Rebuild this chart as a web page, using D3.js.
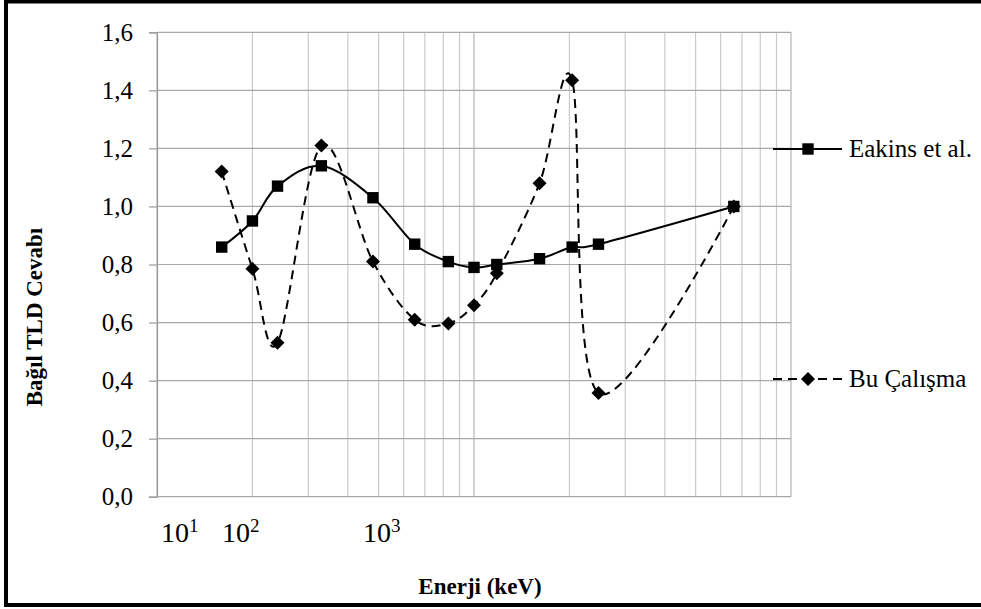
<!DOCTYPE html>
<html>
<head>
<meta charset="utf-8">
<script src="https://cdn.jsdelivr.net/npm/d3@7"></script>
<style>
  body { margin: 0; background: #fff; }
</style>
</head>
<body>
<div id="chart"></div>
<script>
// energies in keV (same for both series)
var energies = [16, 20, 24, 33, 48, 65, 83, 100, 118, 161, 204, 247, 660];
var eakins = [0.86, 0.95, 1.07, 1.14, 1.03, 0.87, 0.81, 0.79, 0.80, 0.82, 0.86, 0.87, 1.00];
var buCalisma = [1.12, 0.785, 0.53, 1.21, 0.81, 0.61, 0.597, 0.66, 0.77, 1.08, 1.435, 0.357, 1.00];
var seriesNames = ["Eakins et al.", "Bu Çalışma"];
var yTicks = [0, 0.2, 0.4, 0.6, 0.8, 1.0, 1.2, 1.4, 1.6];
var powerLabels = ["1", "2", "3"]; // 10^n text boxes under the axis
var powerLabelX = [161, 222, 363];   // they were placed by hand, not on the scale

const W = 981, H = 609;
const plot = {left: 157, right: 791, top: 32.3, bottom: 496.7};
const serif = "'Liberation Serif', Tinos, 'Times New Roman', Times, 'DejaVu Serif', serif";

var xScale = d3.scaleLog().domain([10, 1000]).range([plot.left, plot.right]);
var yScale = d3.scaleLinear().domain([0, 1.6]).range([plot.bottom, plot.top]);

var svg = d3.select("#chart").append("svg")
    .attr("width", W)
    .attr("height", H)
    .style("font-family", serif);

// outer frame, right side runs off the picture
svg.append("rect")
    .attr("x", 6).attr("y", 1.5)
    .attr("width", 1000).attr("height", 603.5)
    .attr("fill", "none")
    .attr("stroke", "#000")
    .attr("stroke-width", 4);

// vertical grid (log)
svg.append("g").selectAll("line")
    .data(xScale.ticks())
    .enter().append("line")
    .attr("x1", d => xScale(d)).attr("x2", d => xScale(d))
    .attr("y1", plot.top).attr("y2", plot.bottom)
    .attr("stroke", function(d) { return Math.log10(d) % 1 === 0 ? "#b4b4b4" : "#cacaca"; })
    .attr("stroke-width", 1.2);

// horizontal grid + ticks
var yAxis = d3.axisLeft(yScale)
    .tickValues(yTicks)
    .tickSize(8)
    .tickPadding(16)
    .tickFormat(d => d3.format(".1f")(d).replace(".", ","));

var gy = svg.append("g")
    .attr("transform", "translate(" + plot.left + ",0)")
    .call(yAxis)
    .attr("font-family", null)
    .attr("font-size", null);
gy.select(".domain").attr("stroke", "#9a9a9a").attr("stroke-width", 1.2);
gy.selectAll(".tick line").attr("stroke", "#9a9a9a").attr("stroke-width", 1.2);
gy.selectAll(".tick text")
    .style("font-family", serif)
    .style("font-size", "25px")
    .attr("fill", "#000")
    .attr("dy", "0.32em");

svg.append("g").selectAll("line")
    .data(yTicks)
    .enter().append("line")
    .attr("x1", plot.left).attr("x2", plot.right)
    .attr("y1", d => yScale(d)).attr("y2", d => yScale(d))
    .attr("stroke", "#a8a8a8")
    .attr("stroke-width", 1.2);

// 10^n labels
var pl = svg.append("g").selectAll("text")
    .data(powerLabels)
    .enter().append("text")
    .attr("x", (d, i) => powerLabelX[i])
    .attr("y", 541.5)
    .style("font-family", serif)
    .style("font-size", "28px");
pl.append("tspan").text("10");
pl.append("tspan").style("font-size", "19px").attr("dy", -10).text(d => d);

// axis titles
svg.append("text")
    .attr("x", 480).attr("y", 594)
    .attr("text-anchor", "middle")
    .style("font-family", serif)
    .style("font-size", "23px")
    .style("font-weight", "bold")
    .text("Enerji (keV)");

svg.append("text")
    .attr("transform", "translate(42,317) rotate(-90)")
    .attr("text-anchor", "middle")
    .style("font-family", serif)
    .style("font-size", "23px")
    .style("font-weight", "bold")
    .text("Bağıl TLD Cevabı");

var line = d3.line()
    .x(d => xScale(d[0]))
    .y(d => yScale(d[1]))
    .curve(d3.curveCatmullRom.alpha(0));

var square = d3.symbol().type(d3.symbolSquare).size(130);
// excel diamond = square turned 45 degrees
var diamond = "M0,-7L7,0L0,7L-7,0Z";

function drawSeries(values, dash, sym) {
    var pts = energies.map((e, i) => [e, values[i]]);
    svg.append("path")
        .datum(pts)
        .attr("d", line)
        .attr("fill", "none")
        .attr("stroke", "#000")
        .attr("stroke-width", 2)
        .attr("stroke-dasharray", dash);
    svg.append("g").selectAll("path")
        .data(pts)
        .enter().append("path")
        .attr("d", sym)
        .attr("transform", d => "translate(" + xScale(d[0]) + "," + yScale(d[1]) + ")")
        .attr("fill", "#000");
}

drawSeries(buCalisma, "9,6", diamond);
drawSeries(eakins, null, square);

// legend
var legend = [
    {name: seriesNames[0], y: 149, dash: null, sym: square},
    {name: seriesNames[1], y: 379, dash: "9,6", sym: diamond}
];
legend.forEach(function(l) {
    svg.append("line")
        .attr("x1", 773).attr("x2", 842)
        .attr("y1", l.y).attr("y2", l.y)
        .attr("stroke", "#000")
        .attr("stroke-width", 2)
        .attr("stroke-dasharray", l.dash);
    svg.append("path")
        .attr("d", l.sym)
        .attr("transform", "translate(808," + l.y + ")");
    svg.append("text")
        .attr("x", 849).attr("y", l.y + 8)
        .style("font-family", serif)
        .style("font-size", "25px")
        .text(l.name);
});
</script>
</body>
</html>
